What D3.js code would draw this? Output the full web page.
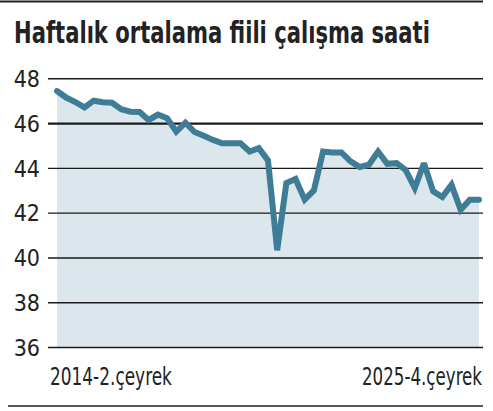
<!DOCTYPE html>
<html><head><meta charset="utf-8">
<script src="https://cdn.jsdelivr.net/npm/d3@7/dist/d3.min.js"></script>
<style>
html,body{margin:0;padding:0;background:#fff;}
svg{display:block;}
</style></head>
<body>
<script>
const title = "Haftalık ortalama fiili çalışma saati";
const startLabel = "2014-2.çeyrek";
const endLabel = "2025-4.çeyrek";
const yTicks = [36, 38, 40, 42, 44, 46, 48];
const quarters = [];
for (let y = 2014; y <= 2025; y++) for (let q = 1; q <= 4; q++) {
  if (y === 2014 && q < 2) continue;
  quarters.push(y + "-" + q + ".çeyrek");
}
const hours = [47.43, 47.14, 46.94, 46.70, 47.00, 46.93, 46.91, 46.62, 46.51, 46.50,
  46.14, 46.38, 46.22, 45.62, 46.02, 45.60, 45.43, 45.25, 45.10, 45.10,
  45.10, 44.73, 44.88, 44.33, 40.32, 43.32, 43.50, 42.58, 42.99, 44.73,
  44.69, 44.69, 44.29, 44.04, 44.14, 44.73, 44.18, 44.21, 43.91, 43.10,
  44.21, 42.95, 42.70, 43.25, 42.13, 42.58, 42.58];

const W = 493, H = 411;
const svg = d3.select("body").append("svg").attr("width", W).attr("height", H);
const font = "'DejaVu Sans Condensed','DejaVu Sans',sans-serif";

// place a text at (x, y) and squeeze it horizontally to a target width
function squeezeText(parent, str, px, py, target, size, anchor, weight) {
  const g = parent.append("g");
  const tx = g.append("text").text(str).attr("font-family", font)
    .attr("font-size", size).attr("font-weight", weight || "normal")
    .attr("fill", "#222").attr("text-anchor", anchor || "start");
  const w = tx.node().getComputedTextLength();
  const s = Math.min(1, target / w);
  g.attr("transform", `translate(${px},${py}) scale(${s},1)`);
  return g;
}

const x = d3.scaleLinear().domain([0, quarters.length - 1]).range([57, 479]);
const y = d3.scaleLinear().domain([36, 48]).range([347, 78.3]);

// top rule
svg.append("line").attr("x1", 0).attr("x2", 483).attr("y1", 1.5).attr("y2", 1.5)
  .attr("stroke", "#222").attr("stroke-width", 2);

// title
squeezeText(svg, title, 14, 43, 416, 31, "start", "bold");

// area
const data = hours.map((v, i) => ({i, v}));
svg.append("path").datum(data)
  .attr("d", d3.area().x(d => x(d.i)).y0(y(36)).y1(d => y(d.v)))
  .attr("fill", "#dce6ed");

// gridlines
const yAxis = d3.axisLeft(y).tickValues(yTicks).tickSize(-(483 - 48)).tickFormat(d3.format("d"));
const g = svg.append("g").attr("transform", "translate(48,0)").call(yAxis);
g.select(".domain").remove();
g.selectAll(".tick line").attr("stroke", "#1a1a1a")
  .attr("stroke-width", d => (d === 46 ? 2.4 : 1.4));
g.selectAll(".tick text").attr("x", -8).attr("font-family", font)
  .attr("font-size", 23).attr("fill", "#222").attr("dy", "0.36em");

// line
svg.append("path").datum(data)
  .attr("d", d3.line().x(d => x(d.i)).y(d => y(d.v)))
  .attr("fill", "none").attr("stroke", "#3f7d96").attr("stroke-width", 6)
  .attr("stroke-linejoin", "miter").attr("stroke-miterlimit", 3).attr("stroke-linecap", "round");

// x labels
squeezeText(svg, startLabel, 50, 385, 122, 24, "start");
squeezeText(svg, endLabel, 482, 385, 120, 24, "end");

// bottom rule
svg.append("line").attr("x1", 8).attr("x2", 483).attr("y1", 406).attr("y2", 406)
  .attr("stroke", "#222").attr("stroke-width", 1.5);
</script>
</body></html>
